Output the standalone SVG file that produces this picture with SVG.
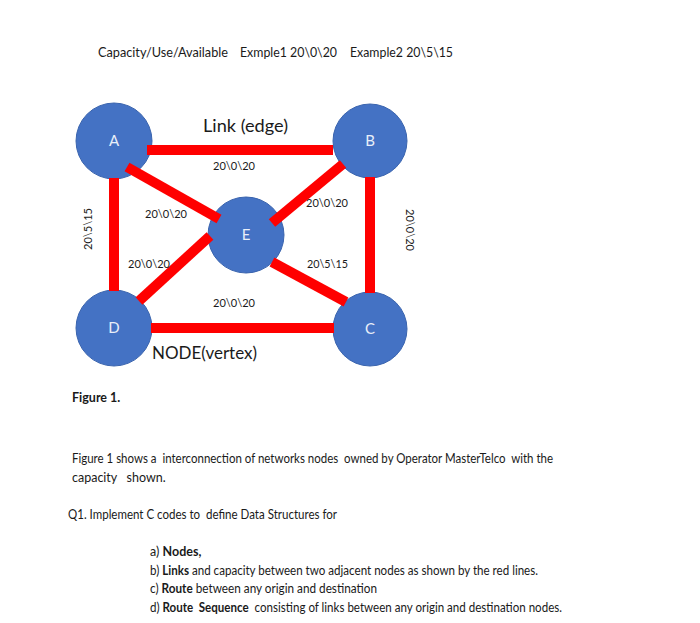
<svg xmlns="http://www.w3.org/2000/svg" width="700" height="623" viewBox="0 0 700 623">
<style>
text{font-family:Lato,"Open Sans","Liberation Sans",sans-serif;fill:#1a1a1a;white-space:pre}
.hdr{font-size:12.5px}
.big{font-size:17px}
.lbl{font-size:11px}
.body{font-size:12.5px}
.b{font-weight:bold}
.node circle{fill:#4472C4;stroke:#3A64AE;stroke-width:1}
.node text{fill:#E9EFF9;font-size:15px;text-anchor:middle}
.links line{stroke:#FF0000;stroke-width:10;stroke-linecap:butt}
</style>
<rect width="700" height="623" fill="#fff"/>
<text class="hdr" x="98" y="57" textLength="130" lengthAdjust="spacingAndGlyphs">Capacity/Use/Available</text>
<text class="hdr" x="240" y="57" textLength="97" lengthAdjust="spacingAndGlyphs">Exmple1 20\0\20</text>
<text class="hdr" x="350" y="57" textLength="103" lengthAdjust="spacingAndGlyphs">Example2 20\5\15</text>

<g id="nodes">
<g id="node-A" class="node"><circle cx="114" cy="141" r="38"/><text x="114" y="146">A</text></g>
<g id="node-B" class="node"><circle cx="370" cy="141" r="37"/><text x="370" y="146">B</text></g>
<g id="node-C" class="node"><circle cx="370" cy="329" r="37"/><text x="370" y="334">C</text></g>
<g id="node-D" class="node"><circle cx="114" cy="328" r="38"/><text x="114" y="333">D</text></g>
<g id="node-E" class="node"><circle cx="246" cy="235" r="38"/><text x="246" y="240">E</text></g>
</g>

<g id="connectors" class="links">
<line x1="147" y1="150" x2="333" y2="150"/>
<line x1="114" y1="178" x2="114" y2="291"/>
<line x1="370" y1="177" x2="370" y2="293"/>
<line x1="151" y1="328" x2="334" y2="328"/>
<line x1="127" y1="167" x2="219" y2="219"/>
<line x1="343" y1="164" x2="272" y2="223"/>
<line x1="139" y1="301" x2="210" y2="236"/>
<line x1="272" y1="262" x2="346" y2="302"/>
</g>

<g id="labels">
<text class="big" x="203" y="132" textLength="85" lengthAdjust="spacingAndGlyphs">Link (edge)</text>
<text class="big" x="152" y="359" textLength="105" lengthAdjust="spacingAndGlyphs">NODE(vertex)</text>
<text class="lbl" x="213" y="170" textLength="42" lengthAdjust="spacingAndGlyphs">20\0\20</text>
<text class="lbl" x="145" y="218" textLength="42" lengthAdjust="spacingAndGlyphs">20\0\20</text>
<text class="lbl" x="306" y="207" textLength="42" lengthAdjust="spacingAndGlyphs">20\0\20</text>
<text class="lbl" x="128" y="268" textLength="42" lengthAdjust="spacingAndGlyphs">20\0\20</text>
<text class="lbl" x="307" y="268" textLength="41" lengthAdjust="spacingAndGlyphs">20\5\15</text>
<text class="lbl" x="213" y="307" textLength="42" lengthAdjust="spacingAndGlyphs">20\0\20</text>
<text class="lbl" transform="translate(92 250) rotate(-90)" x="0" y="0" textLength="42" lengthAdjust="spacingAndGlyphs">20\5\15</text>
<text class="lbl" transform="translate(406 209) rotate(90)" x="0" y="0" textLength="42" lengthAdjust="spacingAndGlyphs">20\0\20</text>
</g>

<text class="body b" x="72" y="402" font-size="13">Figure 1.</text>
<text class="body" x="72" y="463" textLength="481" lengthAdjust="spacingAndGlyphs" xml:space="preserve">Figure 1 shows a  interconnection of networks nodes  owned by Operator MasterTelco  with the</text>
<text class="body" x="72" y="482" xml:space="preserve">capacity   shown.</text>
<text class="body" x="68" y="519" textLength="269" lengthAdjust="spacingAndGlyphs" xml:space="preserve">Q1. Implement C codes to  define Data Structures for</text>
<text class="body" x="150" y="556" xml:space="preserve">a) <tspan class="b">Nodes,</tspan></text>
<text class="body" x="150" y="575" textLength="388" lengthAdjust="spacingAndGlyphs" xml:space="preserve">b) <tspan class="b">Links</tspan> and capacity between two adjacent nodes as shown by the red lines.</text>
<text class="body" x="150" y="593" textLength="227" lengthAdjust="spacingAndGlyphs" xml:space="preserve">c) <tspan class="b">Route</tspan> between any origin and destination</text>
<text class="body" x="150" y="612" textLength="412" lengthAdjust="spacingAndGlyphs" xml:space="preserve">d) <tspan class="b">Route  Sequence</tspan>  consisting of links between any origin and destination nodes.</text>
</svg>
